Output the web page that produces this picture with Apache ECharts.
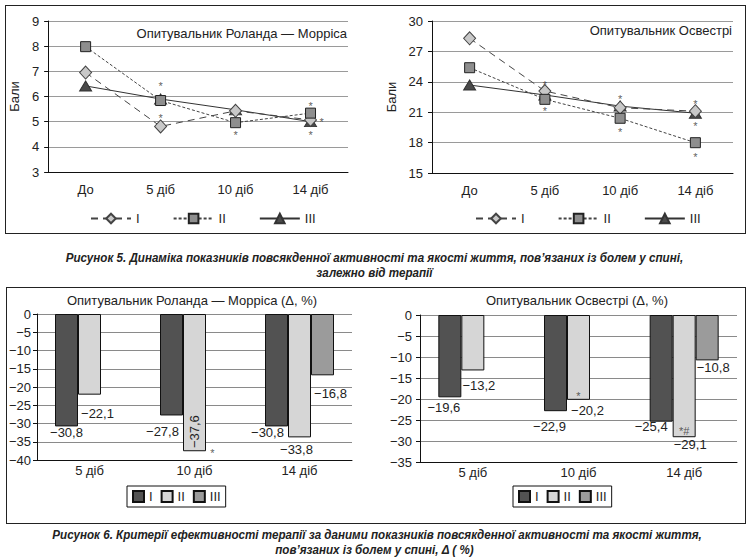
<!DOCTYPE html>
<html><head><meta charset="utf-8">
<script src="https://cdn.jsdelivr.net/npm/echarts/dist/echarts.min.js"></script>
<style>
body{margin:0;background:#fff;width:749px;height:558px;position:relative;overflow:hidden;font-family:"Liberation Sans",Arial,sans-serif}
.box{position:absolute;border:1px solid #222;box-sizing:border-box}
.ch{position:absolute}
.cap{position:absolute;left:0;width:749px;text-align:center;font-family:"Liberation Sans",Arial,sans-serif;font-weight:bold;font-style:italic;font-size:13.5px;color:#222;line-height:15px;white-space:nowrap;transform:scaleX(0.86);transform-origin:374px 0}
</style></head><body>
<div class="box" style="left:5px;top:5px;width:741px;height:229px"></div>
<div class="box" style="left:6px;top:287px;width:740px;height:237px"></div>
<div id="c1" class="ch" style="left:0;top:0;width:375px;height:235px"></div>
<div id="c2" class="ch" style="left:375px;top:0;width:374px;height:235px"></div>
<div id="c3" class="ch" style="left:0;top:280px;width:375px;height:235px"></div>
<div id="c4" class="ch" style="left:375px;top:280px;width:374px;height:235px"></div>
<div class="cap" style="top:250px">Рисунок 5. Динаміка показників повсякденної активності та якості життя, пов’язаних із болем у спині,<br>залежно від терапії</div>
<div class="cap" style="top:527px">Рисунок 6. Критерії ефективності терапії за даними показників повсякденної активності та якості життя,<br>пов’язаних із болем у спині, Δ ( %)</div>
<script>
// ---- data ----
const lineCats = ['До', '5 діб', '10 діб', '14 діб'];
const rmI   = [6.95, 4.81, 5.43, 5.07];
const rmII  = [7.98, 5.84, 4.96, 5.34];
const rmIII = [6.42, 5.90, 5.47, 5.00];
const rmStars = [[1, 6.54], [1, 5.27], [2, 4.57], [3, 5.75], [3, 5.11], [3, 4.57]];
const oswI   = [28.29, 23.09, 21.44, 21.10];
const oswII  = [25.39, 22.27, 20.40, 17.99];
const oswIII = [23.68, 22.70, 21.60, 20.90];
const oswStars = [[1, 24.0], [1, 21.38], [2, 22.6], [2, 19.3], [3, 22.1], [3, 19.9], [3, 16.84]];

const barCats = ['5 діб', '10 діб', '14 діб'];
const rmdI   = [-30.8, -27.8, -30.8];
const rmdII  = [-22.1, -37.6, -33.8];
const rmdIII = [null, null, -16.8];
const rmdMarks = [[1, -37.6, '*']];
const oswdI   = [-19.6, -22.9, -25.4];
const oswdII  = [-13.2, -20.2, -29.1];
const oswdIII = [null, null, -10.8];
const oswdMarks = [[1, -20.2, '*'], [2, -29.1, '*#']];

// ---- layout (label nudges) ----
const rmStarDx = [0, 0, 0, 0, 11, 0];
const oswStarDx = [0, 0, 0, 0, 0, 0, 0];
const FONT = 'Liberation Sans';
const TXT = '#222';
const minus = s => String(s).replace('-', '\u2212');
const fmt = v => minus(v.toFixed(1).replace('.', ','));

function lineOpt(c) {
  return {
    animation: false,
    textStyle: {fontFamily: FONT},
    graphic: [{type: 'text', x: c.titleX, y: c.titleY, style: {text: c.title, align: 'right', textAlign: 'right', verticalAlign: 'middle', textVerticalAlign: 'middle', fontSize: 13, fontFamily: FONT, fill: TXT}}],
    grid: {left: c.gl, top: 21, width: c.gw, height: c.gh},
    xAxis: {type: 'category', data: lineCats,
      axisLine: {lineStyle: {color: '#111'}}, axisTick: {length: 5, lineStyle: {color: '#111'}},
      axisLabel: {fontSize: 13, color: TXT, margin: 11}},
    yAxis: {type: 'value', min: c.min, max: c.max, interval: c.interval,
      name: 'Бали', nameLocation: 'middle', nameRotate: 90, nameGap: c.nameGap,
      nameTextStyle: {fontSize: 13, color: TXT},
      axisLine: {show: true, lineStyle: {color: '#111'}}, axisTick: {show: true, length: 4, lineStyle: {color: '#111'}},
      axisLabel: {fontSize: 13, color: TXT, margin: 9},
      splitLine: {lineStyle: {color: '#9a9a9a'}}},
    legend: {data: ['I', 'II', 'III'], left: c.legLeft, top: 212, itemWidth: 40, itemHeight: 12, itemGap: 33, padding: 0,
      textStyle: {fontSize: 13, color: TXT}},
    series: [
      {name: 'I', type: 'line', data: c.I, z: 3, symbol: 'diamond', symbolSize: [12, 13],
        lineStyle: {color: '#444', width: 1, type: [7, 5]}, itemStyle: {color: '#c8c8c8', borderColor: '#444', borderWidth: 1}},
      {name: 'II', type: 'line', data: c.II, z: 3, symbol: 'rect', symbolSize: 10,
        lineStyle: {color: '#444', width: 1, type: [3, 2]}, itemStyle: {color: '#8e8e8e', borderColor: '#222', borderWidth: 1}},
      {name: 'III', type: 'line', data: c.III, z: 2, symbol: 'triangle', symbolSize: [12, 10],
        lineStyle: {color: '#333', width: 1}, itemStyle: {color: '#4a4a4a', borderColor: '#333', borderWidth: 1}},
      {name: 'stars', type: 'scatter', z: 5, silent: true, symbolSize: 1, itemStyle: {color: 'rgba(0,0,0,0)'},
        data: c.stars.map((p, i) => ({value: p, label: {offset: [c.starDx[i], 3]}})),
        label: {show: true, position: 'inside', formatter: '*', fontSize: 11, color: '#333'}}
    ]
  };
}

function barOpt(c) {
  const mk = (vals, offs, special) => vals.map((v, i) => {
    if (v == null) return null;
    const item = {value: v, label: {offset: offs[i]}};
    if (special && special[i]) Object.assign(item.label, special[i]);
    return item;
  });
  const lab = {show: true, position: 'bottom', distance: 0, formatter: p => fmt(p.value), fontSize: 13, color: TXT};
  return {
    animation: false,
    textStyle: {fontFamily: FONT},
    graphic: [{type: 'text', x: c.titleX, y: 20, style: {text: c.title, align: 'center', textAlign: 'center', verticalAlign: 'middle', textVerticalAlign: 'middle', fontSize: 13, fontFamily: FONT, fill: TXT}}],
    grid: {left: c.gl, top: c.gt, width: c.gw, height: c.gh},
    xAxis: {type: 'category', data: barCats,
      axisLine: {onZero: false, lineStyle: {color: '#111'}}, axisTick: {length: 5, lineStyle: {color: '#111'}},
      axisLabel: {fontSize: 13, color: TXT, margin: 4}},
    yAxis: {type: 'value', min: c.min, max: 0, interval: 5,
      axisLine: {show: true, lineStyle: {color: '#111'}}, axisTick: {show: true, length: 4, lineStyle: {color: '#111'}},
      axisLabel: {fontSize: 13, color: TXT, margin: c.ylm, formatter: v => minus(v)},
      splitLine: {lineStyle: {color: '#8a8a8a'}}},
    legend: {data: ['I', 'II', 'III'], left: c.legLeft, top: 206, icon: 'rect', itemWidth: 11, itemHeight: 11, itemGap: 8,
      padding: [4, 5, 4, 5], borderColor: '#111', borderWidth: 1, textStyle: {fontSize: 13, color: TXT}},
    series: [
      {name: 'I', type: 'bar', barWidth: 23, barGap: '0%', data: mk(c.I, c.offI), label: lab,
        itemStyle: {color: '#525252', borderColor: '#111', borderWidth: 1}},
      {name: 'II', type: 'bar', barWidth: 23, barGap: '0%', data: mk(c.II, c.offII, c.specII), label: lab,
        itemStyle: {color: '#d6d6d6', borderColor: '#111', borderWidth: 1}},
      {name: 'III', type: 'bar', barWidth: 23, barGap: '0%', data: mk(c.III, c.offIII), label: lab,
        itemStyle: {color: '#9b9b9b', borderColor: '#111', borderWidth: 1}},
      {name: 'marks', type: 'scatter', z: 5, silent: true, symbolSize: 1, itemStyle: {color: 'rgba(0,0,0,0)'},
        data: c.marks.map((m, i) => ({value: [m[0], m[1]], label: {formatter: m[2], offset: c.markOff[i]}})),
        label: {show: true, position: 'inside', fontSize: 11, color: '#333'}}
    ]
  };
}

const ch1 = echarts.init(document.getElementById('c1'), null, {renderer: 'svg'});
ch1.setOption(lineOpt({title: 'Опитувальник Роланда — Морріса', titleX: 347, titleY: 33,
  gl: 45, gw: 303, gh: 151, min: 3, max: 9, interval: 1, nameGap: 24, legLeft: 90,
  I: rmI, II: rmII, III: rmIII, stars: rmStars, starDx: rmStarDx}));

const ch2 = echarts.init(document.getElementById('c2'), null, {renderer: 'svg'});
ch2.setOption(lineOpt({title: 'Опитувальник Освестрі', titleX: 357, titleY: 30,
  gl: 57, gw: 301, gh: 152, min: 15, max: 30, interval: 3, nameGap: 26, legLeft: 100,
  I: oswI, II: oswII, III: oswIII, stars: oswStars, starDx: oswStarDx}));

const ch3 = echarts.init(document.getElementById('c3'), null, {renderer: 'svg'});
ch3.setOption(barOpt({title: 'Опитувальник Роланда — Морріса (Δ, %)', titleX: 192,
  gl: 37, gt: 34, gw: 315, gh: 146, min: -40, ylm: 6, legLeft: 127,
  I: rmdI, II: rmdII, III: rmdIII,
  offI: [[0, 0], [-9, 10], [-9, 0]], offII: [[8, 12], [0, 0], [-3, 6]], offIII: [null, null, [8, 12]],
  specII: [null, {position: 'inside', rotate: 90, offset: [-49, 0]}, null],
  marks: rmdMarks, markOff: [[18, 2]]}));

const ch4 = echarts.init(document.getElementById('c4'), null, {renderer: 'svg'});
ch4.setOption(barOpt({title: 'Опитувальник Освестрі (Δ, %)', titleX: 202,
  gl: 45, gt: 35, gw: 317, gh: 147, min: -35, ylm: 8, legLeft: 138,
  I: oswdI, II: oswdII, III: oswdIII,
  offI: [[-6, 4], [-6, 9], [-10, -2]], offII: [[6, 9], [9, 4], [6, 1]], offIII: [null, null, [6, 1]],
  specII: null,
  marks: oswdMarks, markOff: [[0, -4], [0, -6]]}));
</script>
</body></html>
